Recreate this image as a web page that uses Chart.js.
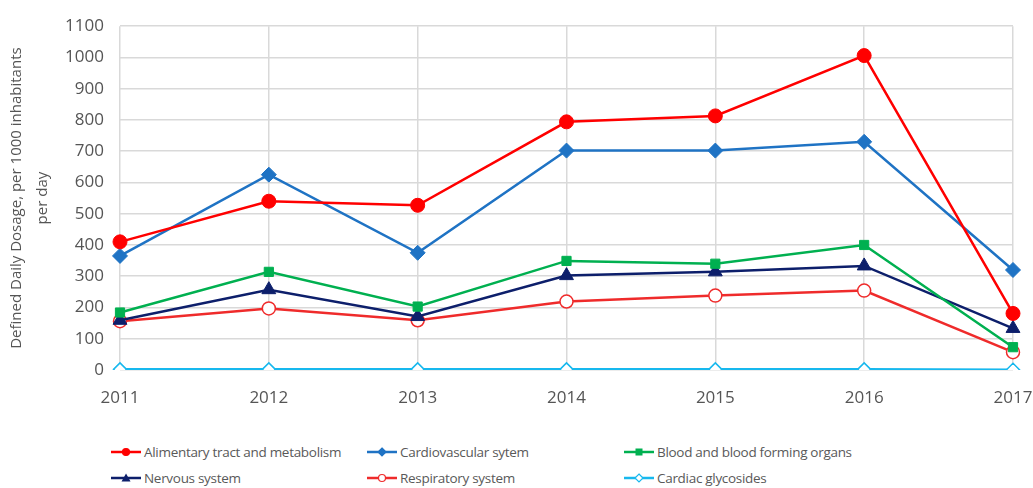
<!DOCTYPE html>
<html>
<head>
<meta charset="utf-8">
<script src="https://cdn.jsdelivr.net/npm/chart.js@4/dist/chart.umd.min.js"></script>
<style>
  body { margin: 0; background: #fff; font-family: "Open Sans", sans-serif; }
  #wrap { position: relative; width: 1033px; height: 488px; }
  #chart-box { position: absolute; left: 0; top: 0; width: 1033px; height: 430px; }
  .legend-item { position: absolute; display: flex; align-items: center; font-size: 13.5px; color: #595959; letter-spacing: -0.3px; white-space: nowrap; }
  .legend-item svg { margin-right: 2px; }
</style>
</head>
<body>
<div id="wrap">
  <div id="chart-box"><canvas id="ddd-chart"></canvas></div>
  <div id="legend"></div>
</div>
<script>
const years = ['2011', '2012', '2013', '2014', '2015', '2016', '2017'];

const alimentary = [410, 540, 527, 794, 813, 1006, 181];
const cardiovascular = [365, 625, 375, 702, 702, 730, 320];
const blood = [184, 314, 203, 349, 340, 400, 73];
const nervous = [159, 257, 171, 302, 314, 333, 133];
const respiratory = [156, 197, 159, 219, 238, 254, 57];
const glycosides = [2, 2, 2, 2, 2, 2, 1];

const seriesNames = [
    'Alimentary tract and metabolism',
    'Cardiovascular sytem',
    'Blood and blood forming organs',
    'Nervous system',
    'Respiratory system',
    'Cardiac glycosides',
];

const textGray = '#555555';
const gridGray = '#d9d9d9';

const makeSeries = (label, data, color, pointStyle, hollow, radius) => ({
    label,
    data,
    borderColor: color,
    backgroundColor: color,
    pointBackgroundColor: hollow ? '#fff' : color,
    pointBorderColor: color,
    pointBorderWidth: hollow ? 1.5 : 1,
    pointStyle,
    pointRadius: radius,
    borderWidth: 2.5,
    tension: 0,
});

const datasets = [
    makeSeries(seriesNames[0], alimentary, '#ff0000', 'circle', false, 7),
    makeSeries(seriesNames[1], cardiovascular, '#1f73c4', 'rectRot', false, 7.5),
    makeSeries(seriesNames[2], blood, '#00b050', 'rect', false, 6.5),
    makeSeries(seriesNames[3], nervous, '#0d1f6b', 'triangle', false, 8),
    makeSeries(seriesNames[4], respiratory, '#ef2b2b', 'circle', true, 6.5),
    makeSeries(seriesNames[5], glycosides, '#17b8ee', 'rectRot', true, 6.5),
];

new Chart(document.getElementById('ddd-chart'), {
    type: 'line',
    data: { labels: years, datasets },
    options: {
        responsive: true,
        maintainAspectRatio: false,
        animation: false,
        layout: { padding: { top: 23, right: 20, left: 0, bottom: 0 } },
        plugins: {
            legend: { display: false },
            tooltip: { enabled: false },
        },
        scales: {
            x: {
                offset: false,
                grid: { color: gridGray, lineWidth: 1.5, drawTicks: false },
                border: { display: false },
                ticks: { color: textGray, font: { family: 'Open Sans', size: 17 }, padding: 18, maxRotation: 0 },
                afterFit: (scale) => {
                    scale.height = 60;
                    // let the end labels hang past the plot edges
                    scale.paddingLeft = 0;
                    scale.paddingRight = 0;
                },
            },
            y: {
                min: 0,
                max: 1100,
                grid: { color: gridGray, lineWidth: 1.5, drawTicks: false },
                border: { display: false },
                ticks: {
                    stepSize: 100,
                    color: textGray,
                    font: { family: 'Open Sans', size: 17 },
                    padding: 16,
                    callback: (value) => String(value),
                },
                title: {
                    display: true,
                    text: ['Defined Daily Dosage, per 1000 inhabitants', 'per day'],
                    color: textGray,
                    font: { family: 'Open Sans', size: 15, lineHeight: 1.7 },
                    padding: { top: 4, bottom: 0 },
                },
                afterFit: (scale) => { scale.width = 120; },
            },
        },
    },
});

// Legend laid out in two rows of three columns under the plot
const legendSlots = [
    [110, 453], [366, 453], [623, 453],
    [110, 479], [366, 479], [623, 479],
];

const markerSvg = (ds) => {
    const fill = ds.pointBackgroundColor;
    const stroke = ds.borderColor;
    let shape = '';
    if (ds.pointStyle === 'circle') {
        shape = `<circle cx="16" cy="7" r="3.5" fill="${fill}" stroke="${stroke}" stroke-width="1.2"/>`;
    } else if (ds.pointStyle === 'rectRot') {
        shape = `<polygon points="16,3 20,7 16,11 12,7" fill="${fill}" stroke="${stroke}" stroke-width="1.2"/>`;
    } else if (ds.pointStyle === 'rect') {
        shape = `<rect x="12.5" y="3.5" width="7" height="7" fill="${fill}"/>`;
    } else {
        shape = `<polygon points="16,2.5 20.5,10.5 11.5,10.5" fill="${fill}"/>`;
    }
    return `<svg width="32" height="14"><line x1="1" y1="7" x2="31" y2="7" stroke="${stroke}" stroke-width="2.5"/>${shape}</svg>`;
};

const legend = document.getElementById('legend');
datasets.forEach((ds, i) => {
    const item = document.createElement('div');
    item.className = 'legend-item';
    item.style.left = legendSlots[i][0] + 'px';
    item.style.top = (legendSlots[i][1] - 10) + 'px';
    item.innerHTML = markerSvg(ds) + '<span>' + ds.label + '</span>';
    legend.appendChild(item);
});
</script>
</body>
</html>
